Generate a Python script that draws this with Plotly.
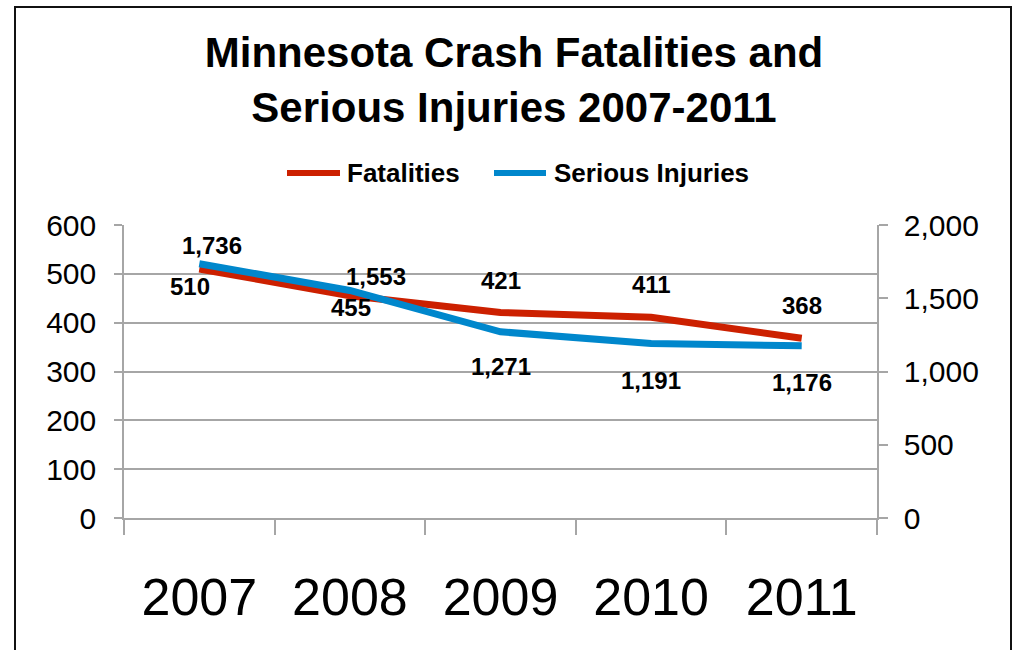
import plotly.graph_objects as go

years = ["2007", "2008", "2009", "2010", "2011"]
fatalities = [510, 455, 421, 411, 368]
serious_injuries = [1736, 1553, 1271, 1191, 1176]
series_names = ["Fatalities", "Serious Injuries"]

# label offsets (px) for data labels
fat_shift = [(-9, -18), (1, -12), (0, 32), (0, 33), (0, 33)]
inj_shift = [(13, 18), (26, 14), (0, -35), (0, -37), (0, -37)]

RED = "#CC2000"
BLUE = "#0087CC"
GRID = "#A6A6A6"
FONT = "Liberation Sans, Arial, sans-serif"

W, H = 1015, 650
L, R, T, B = 124, 877, 225, 518


def px(x):  # screen x -> paper
    return (x - L) / (R - L)


def py(y):  # screen y -> paper
    return (B - y) / (B - T)


fig = go.Figure()
fig.add_trace(go.Scatter(x=years, y=fatalities, name=series_names[0], mode="lines",
                         line=dict(color=RED, width=7), yaxis="y", showlegend=False))
fig.add_trace(go.Scatter(x=years, y=serious_injuries, name=series_names[1], mode="lines",
                         line=dict(color=BLUE, width=7), yaxis="y2", showlegend=False))

lab_font = dict(family=FONT, size=24, color="black", weight="bold")
annotations = []
for i, (v, (dx, dy)) in enumerate(zip(fatalities, fat_shift)):
    annotations.append(dict(x=i, y=v, xref="x", yref="y", text=f"{v:,}", showarrow=False,
                            xshift=dx, yshift=dy, font=lab_font))
for i, (v, (dx, dy)) in enumerate(zip(serious_injuries, inj_shift)):
    annotations.append(dict(x=i, y=v, xref="x", yref="y2", text=f"{v:,}", showarrow=False,
                            xshift=dx, yshift=dy, font=lab_font))

# legend (drawn manually to match the original key geometry)
shapes = []
leg_font = dict(family=FONT, size=26, color="black", weight="bold")
for name, color, (lx0, lx1, tx) in zip(series_names, [RED, BLUE],
                                       [(287, 340, 345), (494, 546, 552)]):
    shapes.append(dict(type="line", xref="paper", yref="paper",
                       x0=px(lx0), x1=px(lx1), y0=py(173), y1=py(173),
                       line=dict(color=color, width=6)))
    annotations.append(dict(x=px(tx), y=py(173), xref="paper", yref="paper", text=name,
                            showarrow=False, xanchor="left", yanchor="middle", font=leg_font))

shapes.append(dict(type="rect", xref="paper", yref="paper",
                   x0=px(15), x1=px(1011), y0=py(700), y1=py(7),
                   line=dict(color="#111111", width=2), fillcolor="rgba(0,0,0,0)",
                   layer="above"))

fig.update_layout(
    width=W, height=H,
    margin=dict(l=L, r=W - R, t=T, b=H - B, autoexpand=False),
    paper_bgcolor="white", plot_bgcolor="white",
    font=dict(family=FONT, color="black"),
    title=dict(text="Minnesota Crash Fatalities and<br>Serious Injuries 2007-2011",
               x=514 / W, xanchor="center", y=1 - 67 / H, yanchor="middle",
               yref="container",
               font=dict(family=FONT, size=42, color="black", weight="bold")),
    showlegend=False,
    xaxis=dict(type="category", tickson="boundaries", ticks="outside", ticklen=15,
               tickcolor=GRID, tickwidth=1.5, showline=True, linecolor=GRID, linewidth=1.5,
               showgrid=False, tickfont=dict(family=FONT, size=52, color="black"),
               ticklabelstandoff=33, range=[-0.5, 4.5]),
    yaxis=dict(range=[0, 600], dtick=100, showgrid=True, gridcolor=GRID, gridwidth=1.5,
               showline=True, linecolor=GRID, linewidth=1.5, ticks="outside", ticklen=8,
               tickcolor=GRID, tickwidth=1.5, zeroline=False,
               tickfont=dict(family=FONT, size=30, color="black"), ticklabelstandoff=12),
    yaxis2=dict(range=[0, 2000], dtick=500, overlaying="y", side="right", showgrid=False,
                showline=True, linecolor=GRID, linewidth=1.5, ticks="outside", ticklen=9,
                tickcolor=GRID, tickwidth=1.5, zeroline=False, tickformat=",d",
                tickfont=dict(family=FONT, size=30, color="black"), ticklabelstandoff=10),
    annotations=annotations,
    shapes=shapes,
)

fig.write_html("out.html", config={"displayModeBar": False},
               post_script="document.body.style.margin='0';"
                           "document.body.style.overflow='hidden';")
